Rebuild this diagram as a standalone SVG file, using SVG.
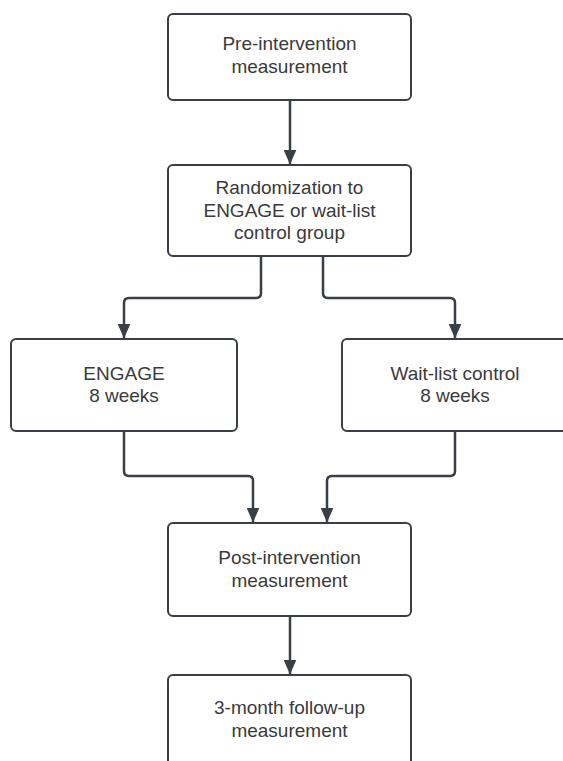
<svg xmlns="http://www.w3.org/2000/svg" width="563" height="761" viewBox="0 0 563 761">
<style>
.box{fill:#fff;stroke:#3a3f47;stroke-width:2}
.t{font-family:"Liberation Sans",Arial,sans-serif;font-size:19px;fill:#3a3a3a;text-anchor:middle}
.c{fill:none;stroke:#3a3f47;stroke-width:2.5}
</style>
<defs>
<marker id="ah" markerWidth="15" markerHeight="13" refX="14.5" refY="6.5" orient="auto" markerUnits="userSpaceOnUse" viewBox="0 0 15 13">
<path d="M0,0 L15,6.5 L0,13 Z" fill="#3a3f47"/>
</marker>
</defs>
<rect width="563" height="761" fill="#fff"/>
<g id="connectors">
<path class="c" d="M290,101 V164" marker-end="url(#ah)"/>
<path class="c" d="M261,257 V293 Q261,298 256,298 H129 Q124,298 124,303 V338" marker-end="url(#ah)"/>
<path class="c" d="M323,257 V293 Q323,298 328,298 H450 Q455,298 455,303 V338" marker-end="url(#ah)"/>
<path class="c" d="M124,432 V471 Q124,476 129,476 H248 Q253,476 253,481 V522" marker-end="url(#ah)"/>
<path class="c" d="M455,432 V471 Q455,476 450,476 H332 Q327,476 327,481 V522" marker-end="url(#ah)"/>
<path class="c" d="M290,617 V674" marker-end="url(#ah)"/>
</g>
<g id="pre">
<rect class="box" x="168" y="14" width="243" height="86" rx="5"/>
<text class="t" x="289.5" y="50">Pre-intervention</text>
<text class="t" x="289.5" y="73">measurement</text>
</g>
<g id="random">
<rect class="box" x="168" y="165" width="243" height="91" rx="5"/>
<text class="t" x="289.5" y="194">Randomization to</text>
<text class="t" x="289.5" y="217">ENGAGE or wait-list</text>
<text class="t" x="289.5" y="239">control group</text>
</g>
<g id="engage">
<rect class="box" x="11" y="339" width="226" height="92" rx="5"/>
<text class="t" x="124" y="380">ENGAGE</text>
<text class="t" x="124" y="402">8 weeks</text>
</g>
<g id="waitlist">
<rect class="box" x="342" y="339" width="226" height="92" rx="5"/>
<text class="t" x="455" y="380">Wait-list control</text>
<text class="t" x="455" y="402">8 weeks</text>
</g>
<g id="post">
<rect class="box" x="168" y="523" width="243" height="93" rx="5"/>
<text class="t" x="289.5" y="564">Post-intervention</text>
<text class="t" x="289.5" y="587">measurement</text>
</g>
<g id="followup">
<rect class="box" x="168" y="675" width="243" height="100" rx="5"/>
<text class="t" x="289.5" y="714">3-month follow-up</text>
<text class="t" x="289.5" y="737">measurement</text>
</g>
</svg>
